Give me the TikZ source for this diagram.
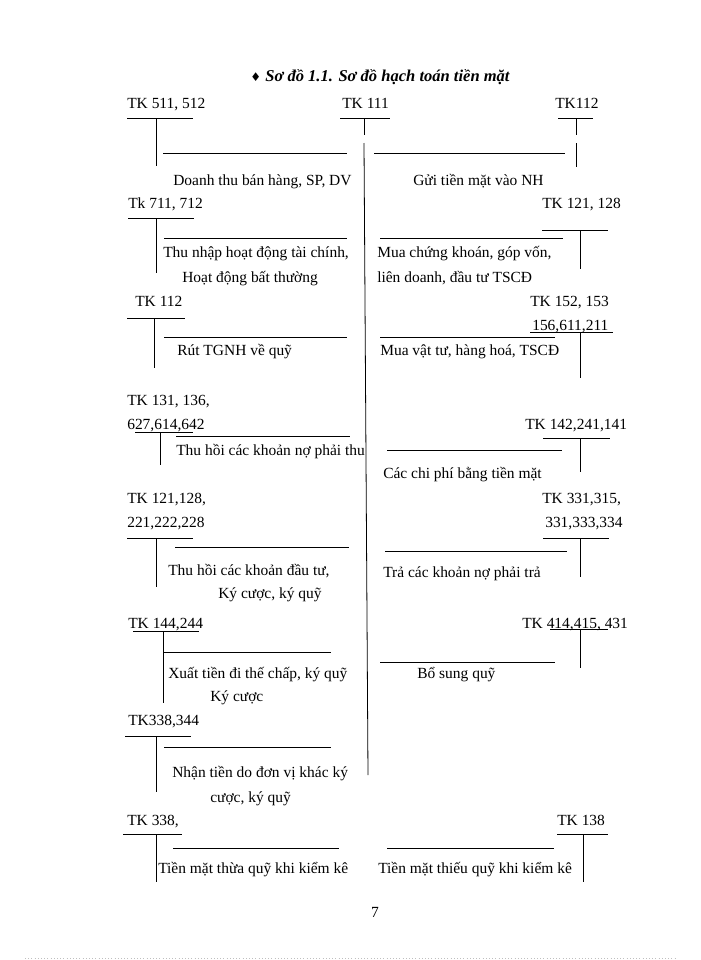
\documentclass[tikz,border=0pt]{standalone}
\usepackage{fontspec}
\setmainfont{Liberation Serif}
\newfontfamily\symfont{DejaVu Sans}
\usetikzlibrary{positioning}

\begin{document}
\begin{tikzpicture}[x = 0.75pt, y = -0.75pt]
\tikzset{
   every node/.style = {font = \fontsize{11.6}{14}\selectfont},
   acct/.style = {anchor = base west, inner sep = 0pt},
   entry/.style = {acct},
   heading/.style = {anchor = base, inner sep = 0pt, font = \fontsize{12.4}{15}\selectfont\bfseries\itshape},
   tline/.style = {line width = 0.6pt}
 }
\useasboundingbox (0,0) rectangle (700,960);

  \node[heading] (title) at (380,81) {{\symfont\fontsize{9}{10}\selectfont ♦} Sơ đồ 1.1. Sơ đồ hạch toán tiền mặt};

  % account in the middle
  \node[acct] (tk111) at (342,108) {TK 111};
  \draw[tline] (340,118) -- (390,118);
  \draw[tline] (364,118) -- (364,135);
  \draw[tline] (364,143) -- (368,775);

  % left side
  \node[acct] (tk511) at (127,108) {TK 511, 512};
  \draw[tline] (127,118) -- (193,118);
  \draw[tline] (156,118) -- (156,166);
  \draw[tline] (163,153) -- (347,153);
  \node[entry] (doanhthu) at (173,185) {Doanh thu bán hàng, SP, DV};

  \node[acct] (tk711) at (128,208) {Tk 711, 712};
  \draw[tline] (128,218) -- (194,218);
  \draw[tline] (156,218) -- (156,273);
  \draw[tline] (164,238) -- (347,238);
  \node[entry] (thunhap) at (163,257) {Thu nhập hoạt động tài chính,};
  \node[entry] (batthuong) at (182,282) {Hoạt động bất thường};

  \node[acct] (tk112l) at (135,306) {TK 112};
  \draw[tline] (127,318) -- (185,318);
  \draw[tline] (154,318) -- (154,368);
  \draw[tline] (164,337) -- (347,337);
  \node[entry] (rut) at (177,355) {Rút TGNH về quỹ};

  \node[acct] (tk131) at (127,405) {TK 131, 136,};
  \node[acct] (tk627) at (127,429) {627,614,642};
  \draw[tline] (135,432) -- (193,432);
  \draw[tline] (160,432) -- (160,465);
  \draw[tline] (176,436) -- (350,436);
  \node[entry] (thuhoino) at (176,455) {Thu hồi các khoản nợ phải thu};

  \node[acct] (tk121l) at (127,503) {TK 121,128,};
  \node[acct] (tk221) at (127,527) {221,222,228};
  \draw[tline] (127,538) -- (193,538);
  \draw[tline] (156,538) -- (156,587);
  \draw[tline] (175,547) -- (349,547);
  \node[entry] (thuhoidt) at (168,575) {Thu hồi các khoản đầu tư,};
  \node[entry] (kycuoc) at (218,598) {Ký cược, ký quỹ};

  \node[acct] (tk144) at (128,628) {TK 144,244};
  \draw[tline] (133,631) -- (199,631);
  \draw[tline] (163,631) -- (163,703);
  \draw[tline] (164,652) -- (331,652);
  \node[entry] (xuat) at (168,678) {Xuất tiền đi thế chấp, ký quỹ};
  \node[entry] (kycuoc2) at (210,701) {Ký cược};

  \node[acct] (tk338a) at (128,725) {TK338,344};
  \draw[tline] (125,736) -- (191,736);
  \draw[tline] (156,736) -- (156,792);
  \draw[tline] (164,747) -- (331,747);
  \node[entry] (nhan) at (172,777) {Nhận tiền do đơn vị khác ký};
  \node[entry] (cuoc) at (210,802) {cược, ký quỹ};

  \node[acct] (tk338b) at (127,825) {TK 338,};
  \draw[tline] (123,834) -- (182,834);
  \draw[tline] (156,834) -- (156,882);
  \draw[tline] (173,848) -- (339,848);
  \node[entry] (thua) at (158,873) {Tiền mặt thừa quỹ khi kiểm kê};

  % right side
  \node[acct] (tk112r) at (555,108) {TK112};
  \draw[tline] (558,118) -- (593,118);
  \draw[tline] (576,118) -- (576,135);
  \draw[tline] (576,143) -- (576,167);
  \draw[tline] (374,153) -- (565,153);
  \node[entry] (gui) at (413,185) {Gửi tiền mặt vào NH};

  \node[acct] (tk121r) at (542,208) {TK 121, 128};
  \draw[tline] (542,230) -- (608,230);
  \draw[tline] (580,230) -- (580,269);
  \draw[tline] (380,238) -- (563,238);
  \node[entry] (mua) at (377,257) {Mua chứng khoán, góp vốn,};
  \node[entry] (liendoanh) at (377,282) {liên doanh, đầu tư TSCĐ};

  \node[acct] (tk152) at (530,306) {TK 152, 153};
  \node[acct] (tk156) at (532,330) {156,611,211};
  \draw[tline] (530,332) -- (613,332);
  \draw[tline] (580,332) -- (580,378);
  \draw[tline] (380,337) -- (555,337);
  \node[entry] (vattu) at (380,355) {Mua vật tư, hàng hoá, TSCĐ};

  \node[acct] (tk142) at (525,429) {TK 142,241,141};
  \draw[tline] (543,438) -- (610,438);
  \draw[tline] (580,438) -- (580,472);
  \draw[tline] (387,450) -- (562,450);
  \node[entry] (chiphi) at (383,478) {Các chi phí bằng tiền mặt};

  \node[acct] (tk331) at (542,503) {TK 331,315,};
  \node[acct] (tk333) at (545,527) {331,333,334};
  \draw[tline] (543,538) -- (609,538);
  \draw[tline] (580,538) -- (580,577);
  \draw[tline] (385,551) -- (567,551);
  \node[entry] (tra) at (383,577) {Trả các khoản nợ phải trả};

  \node[acct] (tk414) at (522,628) {TK 414,415, 431};
  \draw[tline] (550,629) -- (608,629);
  \draw[tline] (580,629) -- (580,668);
  \draw[tline] (380,662) -- (555,662);
  \node[entry] (bosung) at (417,678) {Bổ sung quỹ};

  \node[acct] (tk138) at (557,825) {TK 138};
  \draw[tline] (557,834) -- (608,834);
  \draw[tline] (583,834) -- (583,882);
  \draw[tline] (387,848) -- (554,848);
  \node[entry] (thieu) at (378,873) {Tiền mặt thiếu quỹ khi kiểm kê};

  % page number and page edge
  \node[anchor = base, inner sep = 0pt] (pageno) at (375,917) {7};
  \draw[black!25, dotted] (25,958) -- (675,958);

\end{tikzpicture}
\end{document}
